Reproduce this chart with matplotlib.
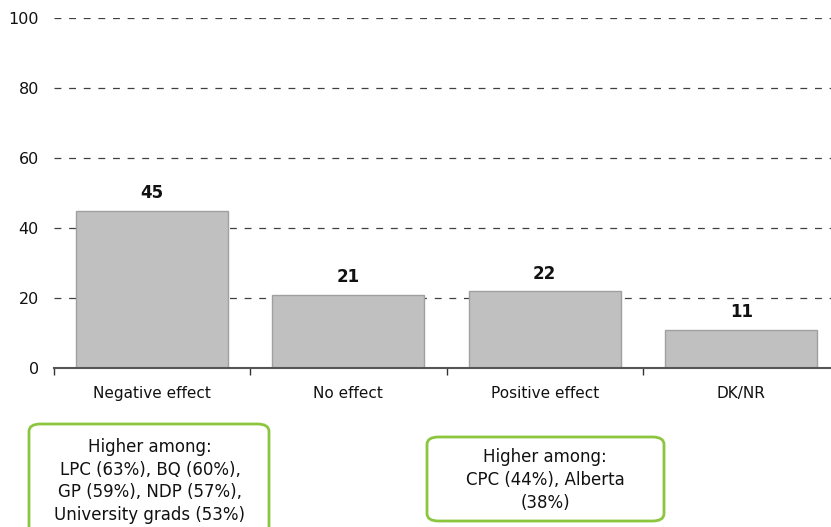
import numpy as np
import matplotlib
matplotlib.use("Agg")
import matplotlib.pyplot as plt
from matplotlib.patches import FancyBboxPatch

# ================================
# Data
# ================================
categories = ["Negative effect", "No effect", "Positive effect", "DK/NR"]
values = [45, 21, 22, 11]
yticks = [0, 20, 40, 60, 80, 100]

note_left = "Higher among:\nLPC (63%), BQ (60%),\nGP (59%), NDP (57%),\nUniversity grads (53%)"
note_right = "Higher among:\nCPC (44%), Alberta\n(38%)"

# ================================
# Figure
# ================================
W, H = 831, 527
plt.rcParams['font.family'] = ['DejaVu Sans']
fig = plt.figure(figsize=(W / 100, H / 100), dpi=100)

# axes extends a little past the right edge, like the original
ax = fig.add_axes([53.5 / W, (H - 368) / H, 786 / W, 350 / H])

x = np.arange(len(categories))
bars = ax.bar(x, values, width=0.775, color='#c0c0c0', edgecolor='#a0a0a0',
              linewidth=1, zorder=3)

for xi, v in zip(x, values):
    ax.annotate(str(v), (xi, v), xytext=(0, 6), textcoords='offset points',
                ha='center', va='bottom', fontsize=12, fontweight='bold',
                color='#111111')

ax.set_xlim(-0.5, len(categories) - 0.5)
ax.set_ylim(0, 100)
ax.set_yticks(yticks)
ax.yaxis.grid(True, linestyle=(0, (5.5, 6.2)), color='#404040', linewidth=0.9)
ax.set_axisbelow(True)

ax.set_xticks(x)
ax.set_xticklabels(categories)
ax.set_xticks(np.arange(-0.5, len(categories)), minor=True)
ax.tick_params(axis='x', which='major', length=0, pad=13, labelsize=11,
               colors='#111111')
ax.tick_params(axis='x', which='minor', length=5, width=1, color='#333333')
ax.tick_params(axis='y', length=0, pad=10.5, labelsize=11.5, colors='#111111')

for s in ['top', 'right', 'left']:
    ax.spines[s].set_visible(False)
ax.spines['bottom'].set_color('#555555')
ax.spines['bottom'].set_linewidth(1.5)
ax.spines['bottom'].set_zorder(4)

# ================================
# Notes below the chart
# ================================
def add_note(x0, y0, x1, y1, text, cx, cy):
    box = FancyBboxPatch((x0 / W, 1 - y1 / H), (x1 - x0) / W, (y1 - y0) / H,
                         boxstyle="round,pad=0,rounding_size=0.014",
                         transform=fig.transFigure, facecolor='white',
                         edgecolor='#8cc63f', linewidth=2, clip_on=False)
    fig.patches.append(box)
    fig.text(cx / W, 1 - cy / H, text, ha='center', va='center',
             fontsize=12, linespacing=1.33, color='#111111')

add_note(29, 424, 269, 545, note_left, 150, 481)
add_note(427, 437, 664, 521, note_right, 545, 480)

fig.savefig("out.png", dpi=100)
